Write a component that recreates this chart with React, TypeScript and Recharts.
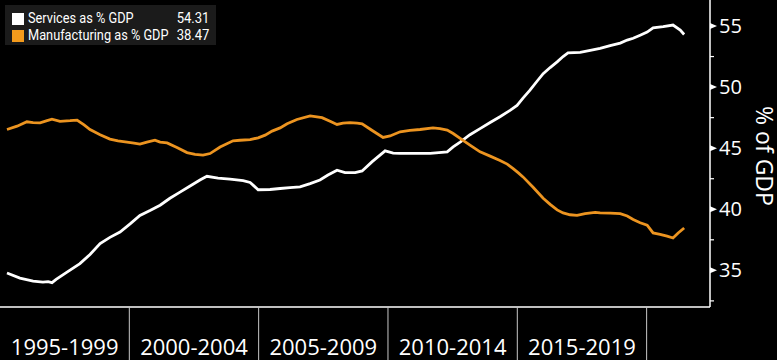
import React from "react";
import { LineChart, Line, XAxis, YAxis } from "recharts";

// ---- data (years as decimal, values in % of GDP) ----
const servicesYears = [1995.27, 1995.77, 1996.28, 1996.66, 1996.86, 1997.01, 1997.17, 1997.59, 1998.09, 1998.48, 1998.87, 1999.25, 1999.64, 2000.03, 2000.41, 2000.8, 2001.19, 2001.57, 2001.96, 2002.35, 2002.73, 2003.0, 2003.43, 2003.89, 2004.4, 2004.67, 2004.98, 2005.44, 2005.83, 2006.21, 2006.6, 2006.99, 2007.37, 2007.68, 2008.03, 2008.34, 2008.73, 2009.0, 2009.39, 2009.89, 2010.2, 2010.47, 2011.05, 2011.63, 2012.29, 2012.52, 2012.79, 2013.17, 2013.56, 2013.95, 2014.33, 2014.72, 2014.99, 2015.22, 2015.49, 2015.77, 2016.0, 2016.27, 2016.54, 2016.77, 2016.96, 2017.43, 2017.82, 2018.2, 2018.59, 2018.98, 2019.25, 2019.48, 2019.75, 2020.02, 2020.25, 2020.64, 2021.02, 2021.3, 2021.45];
const servicesValues = [34.78, 34.37, 34.12, 34.04, 34.07, 33.99, 34.26, 34.86, 35.55, 36.3, 37.2, 37.7, 38.14, 38.8, 39.5, 39.9, 40.33, 40.9, 41.4, 41.9, 42.4, 42.7, 42.55, 42.46, 42.35, 42.2, 41.6, 41.62, 41.7, 41.78, 41.83, 42.1, 42.4, 42.8, 43.2, 43.0, 43.0, 43.14, 43.9, 44.78, 44.6, 44.57, 44.57, 44.57, 44.7, 45.1, 45.5, 46.1, 46.6, 47.1, 47.57, 48.1, 48.5, 49.1, 49.75, 50.5, 51.1, 51.6, 52.07, 52.5, 52.8, 52.84, 53.0, 53.17, 53.4, 53.6, 53.85, 54.0, 54.25, 54.5, 54.85, 54.95, 55.08, 54.67, 54.31];

const manufYears = [1995.27, 1995.66, 1996.04, 1996.28, 1996.55, 1996.82, 1997.01, 1997.32, 1997.71, 1997.98, 1998.25, 1998.48, 1998.87, 1999.25, 1999.56, 1999.91, 2000.18, 2000.41, 2000.68, 2000.99, 2001.19, 2001.46, 2001.84, 2002.23, 2002.54, 2002.85, 2003.12, 2003.51, 2004.01, 2004.28, 2004.67, 2004.98, 2005.25, 2005.52, 2005.83, 2006.1, 2006.48, 2006.99, 2007.45, 2007.76, 2008.03, 2008.26, 2008.53, 2008.81, 2009.0, 2009.39, 2009.81, 2010.08, 2010.47, 2010.85, 2011.24, 2011.74, 2012.01, 2012.29, 2012.52, 2012.79, 2013.17, 2013.56, 2013.95, 2014.33, 2014.61, 2014.84, 2015.03, 2015.22, 2015.61, 2016.0, 2016.27, 2016.54, 2016.77, 2017.04, 2017.31, 2017.62, 2018.01, 2018.2, 2018.59, 2018.98, 2019.25, 2019.48, 2019.75, 2020.02, 2020.25, 2020.52, 2020.79, 2021.02, 2021.22, 2021.45];
const manufValues = [46.53, 46.8, 47.16, 47.1, 47.07, 47.25, 47.38, 47.2, 47.25, 47.3, 46.9, 46.53, 46.1, 45.74, 45.6, 45.5, 45.42, 45.33, 45.5, 45.66, 45.5, 45.43, 45.05, 44.64, 44.5, 44.43, 44.56, 45.1, 45.6, 45.65, 45.7, 45.85, 46.07, 46.4, 46.66, 47.0, 47.35, 47.65, 47.5, 47.2, 46.94, 47.05, 47.1, 47.05, 47.0, 46.45, 45.88, 46.0, 46.34, 46.45, 46.53, 46.66, 46.6, 46.48, 46.2, 45.8, 45.25, 44.7, 44.35, 44.0, 43.7, 43.33, 43.0, 42.65, 41.8, 40.9, 40.4, 39.95, 39.7, 39.55, 39.5, 39.65, 39.75, 39.7, 39.68, 39.64, 39.45, 39.16, 38.9, 38.7, 38.06, 37.95, 37.8, 37.65, 38.06, 38.47];

const periodStarts = [1995, 2000, 2005, 2010, 2015, 2020];
const periodLabels = ["1995-1999", "2000-2004", "2005-2009", "2010-2014", "2015-2019"];
const yTicks = [32.5, 35, 37.5, 40, 42.5, 45, 47.5, 50, 52.5, 55];
const yMajor = [35, 40, 45, 50, 55];

const seriesNames = ["Services as % GDP", "Manufacturing as % GDP"];

const servicesData = servicesYears.map((t, i) => ({ t, v: servicesValues[i] }));
const manufData = manufYears.map((t, i) => ({ t, v: manufValues[i] }));

const W = 777;
const H = 360;
const Y_AXIS_W = 67;
const X_AXIS_H = 53;
const X_MIN = 1995;
const X_MAX = 2022.45;
const PLOT_W = W - Y_AXIS_W;
const HALF_PERIOD_PX = (PLOT_W / (X_MAX - X_MIN)) * 2.5;

const WHITE = "#ffffff";
const ORANGE = "#ec9420";
const AXIS_FONT = "'Open Sans', 'DejaVu Sans', sans-serif";

const XTick = (props: any) => {
  const { x, y, payload, index } = props;
  const label = periodLabels[index];
  return (
    <g>
      {payload.value !== X_MIN && (
        <line x1={x} y1={y} x2={x} y2={H} stroke="#c8c8c8" strokeWidth={1} />
      )}
      {label && (
        <text x={x + HALF_PERIOD_PX} y={y + 48} textAnchor="middle" fill={WHITE} fontSize={22} fontFamily={AXIS_FONT}>
          {label}
        </text>
      )}
    </g>
  );
};

const YTick = (props: any) => {
  const { x, y, payload } = props;
  const v = payload.value;
  const major = yMajor.includes(v);
  if (!major) {
    return <line x1={x} y1={y} x2={x + 4} y2={y} stroke={WHITE} strokeWidth={1.2} />;
  }
  return (
    <g>
      <polygon points={`${x},${y - 3} ${x + 7},${y} ${x},${y + 3}`} fill={WHITE} />
      <text x={x + 9} y={y} dy="0.35em" textAnchor="start" fill={WHITE} fontSize={20} fontFamily={AXIS_FONT}>
        {v}
      </text>
    </g>
  );
};

const legendRows = [
  { name: seriesNames[0], color: WHITE, value: servicesValues[servicesValues.length - 1] },
  { name: seriesNames[1], color: "#f39a1c", value: manufValues[manufValues.length - 1] },
];

export default function App() {
  return (
    <div style={{ position: "absolute", left: 0, top: 0, width: W, height: H, background: "#000", overflow: "hidden" }}>
      <LineChart width={W} height={H} margin={{ top: 0, right: 0, bottom: 0, left: 0 }}>
        <XAxis
          type="number"
          dataKey="t"
          domain={[X_MIN, X_MAX]}
          allowDataOverflow
          ticks={periodStarts}
          interval={0}
          height={X_AXIS_H}
          axisLine={{ stroke: WHITE, strokeWidth: 1.5 }}
          tickLine={false}
          tickSize={0}
          tickMargin={0}
          tick={<XTick />}
        />
        <YAxis
          orientation="right"
          type="number"
          domain={[32, 57.13]}
          allowDataOverflow
          ticks={yTicks}
          interval={0}
          width={Y_AXIS_W}
          axisLine={{ stroke: WHITE, strokeWidth: 1.5 }}
          tickLine={false}
          tickSize={0}
          tickMargin={0}
          tick={<YTick />}
        />
        <Line data={servicesData} dataKey="v" type="linear" stroke={WHITE} strokeWidth={2.8} dot={false} activeDot={false} isAnimationActive={false} />
        <Line data={manufData} dataKey="v" type="linear" stroke={ORANGE} strokeWidth={2.8} dot={false} activeDot={false} isAnimationActive={false} />
      </LineChart>
      <div
        style={{
          position: "absolute",
          left: 764,
          top: 156,
          transform: "translate(-50%, -50%) rotate(90deg)",
          color: WHITE,
          fontFamily: AXIS_FONT,
          fontSize: 23,
          whiteSpace: "nowrap",
          lineHeight: 1,
        }}
      >
        % of GDP
      </div>
      <div
        style={{
          position: "absolute",
          left: 5,
          top: 5,
          width: 211,
          height: 40,
          background: "#1b1b1b",
        }}
      />
      {legendRows.map((s, i) => (
        <React.Fragment key={s.name}>
          <div style={{ position: "absolute", left: 12, top: 13 + i * 17, width: 12, height: 12, background: s.color }} />
          <div
            style={{
              position: "absolute",
              left: 28,
              top: 19 + i * 17,
              transform: "translateY(-50%) scaleX(0.88)",
              transformOrigin: "left center",
              whiteSpace: "nowrap",
              fontFamily: "Roboto, sans-serif",
              fontSize: 14.5,
              lineHeight: 1,
              color: WHITE,
            }}
          >
            {s.name}
          </div>
          <div
            style={{
              position: "absolute",
              right: W - 209,
              top: 19 + i * 17,
              transform: "translateY(-50%) scaleX(0.9)",
              transformOrigin: "right center",
              whiteSpace: "nowrap",
              fontFamily: "Roboto, sans-serif",
              fontSize: 14.5,
              lineHeight: 1,
              color: WHITE,
            }}
          >
            {s.value.toFixed(2)}
          </div>
        </React.Fragment>
      ))}
    </div>
  );
}
